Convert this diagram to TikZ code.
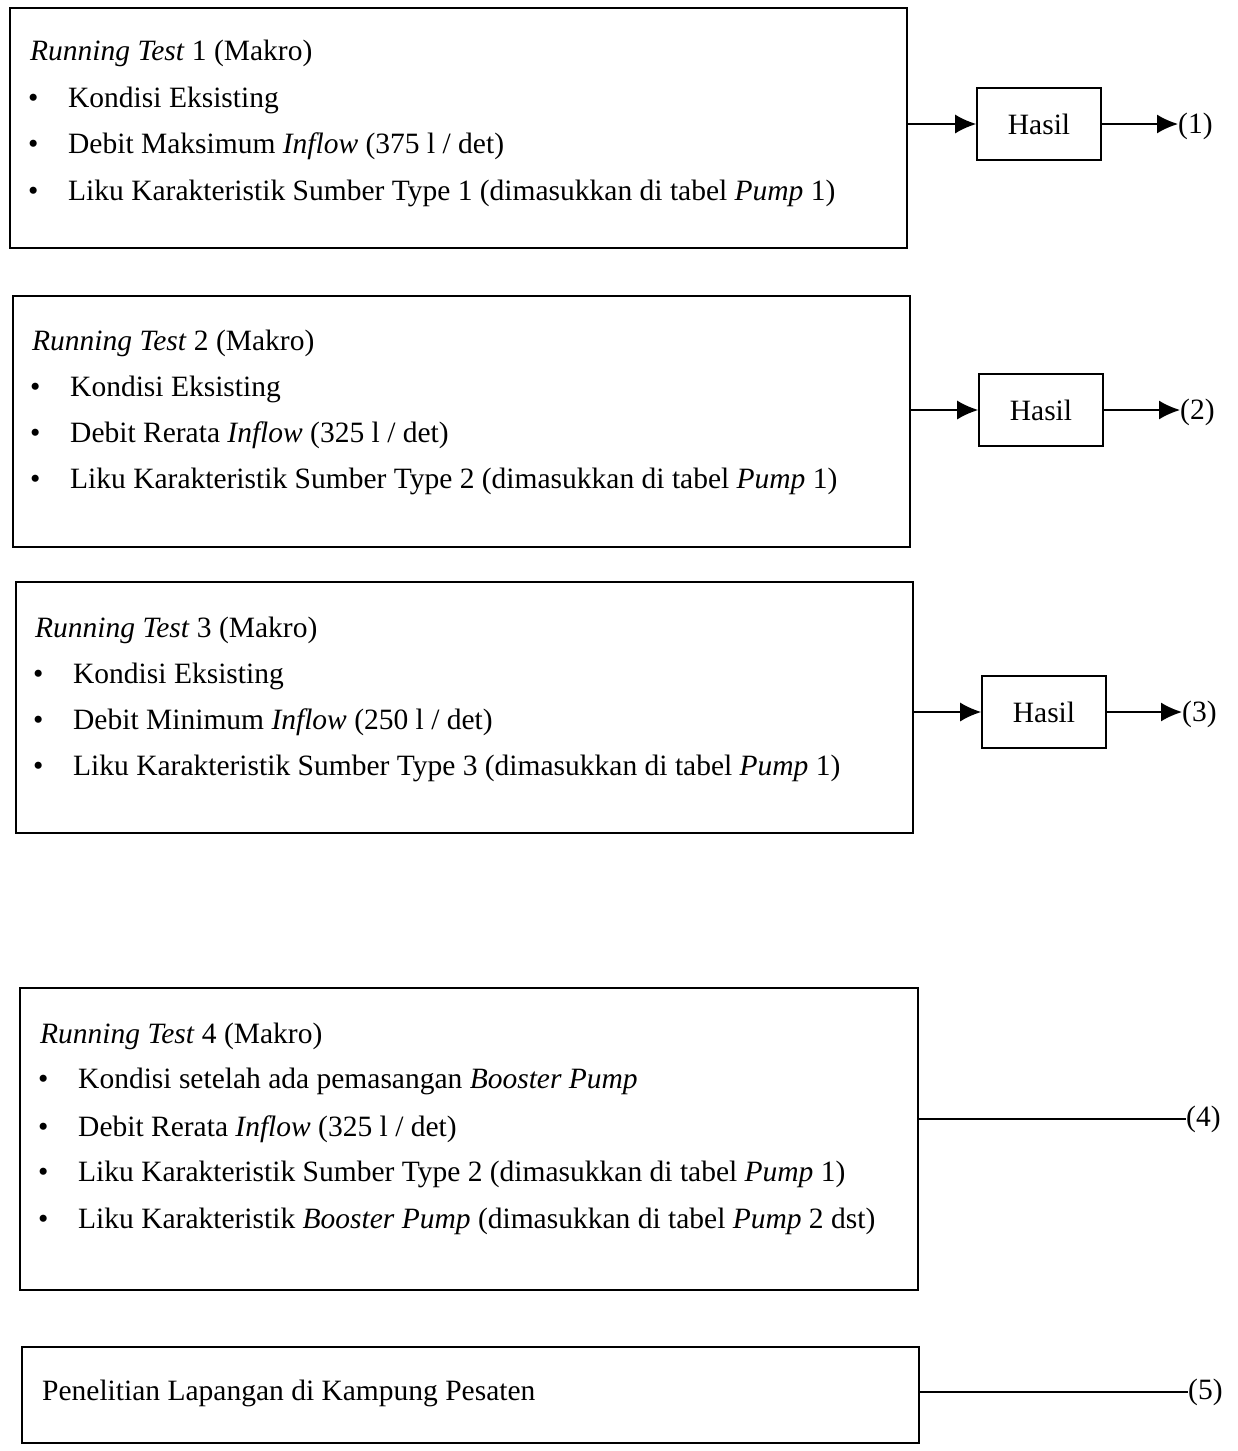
\documentclass[tikz,border=0pt]{standalone}
\usepackage{fontspec}
\setmainfont{Liberation Serif}
\usetikzlibrary{arrows.meta}
\begin{document}
\begin{tikzpicture}[x=1pt,y=-1pt,
  box/.style={draw,line width=1.6pt,inner sep=0,anchor=north west},
  hasil/.style={draw,line width=1.6pt,inner sep=0,anchor=center,minimum width=124pt,minimum height=72pt,font=\fontsize{29.5}{36}\selectfont},
  txt/.style={anchor=base west,inner sep=0,font=\fontsize{29.5}{36}\selectfont},
  lab/.style={anchor=west,inner sep=0,font=\fontsize{29.5}{36}\selectfont},
  arr/.style={line width=1.6pt,-{Latex[length=21pt,width=19pt]}},
  ln/.style={line width=1.6pt}]
\useasboundingbox (0,0) rectangle (1238,1451);
% ---- box 1
\node[box,minimum width=897pt,minimum height=240pt] (b1) at (9,7) {};
\node[txt] (t1) at (30,60) {\textit{Running Test} 1 (Makro)};
\node[txt] (t1a) at (28,107) {\textbullet};
\node[txt] (t1b) at (68,107) {Kondisi Eksisting};
\node[txt] (t1c) at (28,153) {\textbullet};
\node[txt] (t1d) at (68,153) {Debit Maksimum \textit{Inflow} (375 l / det)};
\node[txt] (t1e) at (28,200) {\textbullet};
\node[txt] (t1f) at (68,200) {Liku Karakteristik Sumber Type 1 (dimasukkan di tabel \textit{Pump} 1)};
\node[hasil] (h1) at (1039,124) {Hasil};
\node[lab] (l1) at (1178,126) {(1)};
\draw[arr] (b1.east |- h1) -- (h1.west);
\draw[arr] (h1.east) -- (h1.east -| l1.west);
% ---- box 2
\node[box,minimum width=897pt,minimum height=251pt] (b2) at (12,295) {};
\node[txt] (t2) at (32,350) {\textit{Running Test} 2 (Makro)};
\node[txt] (t2a) at (30,396) {\textbullet};
\node[txt] (t2b) at (70,396) {Kondisi Eksisting};
\node[txt] (t2c) at (30,442) {\textbullet};
\node[txt] (t2d) at (70,442) {Debit Rerata \textit{Inflow} (325 l / det)};
\node[txt] (t2e) at (30,488) {\textbullet};
\node[txt] (t2f) at (70,488) {Liku Karakteristik Sumber Type 2 (dimasukkan di tabel \textit{Pump} 1)};
\node[hasil] (h2) at (1041,410) {Hasil};
\node[lab] (l2) at (1180,412) {(2)};
\draw[arr] (b2.east |- h2) -- (h2.west);
\draw[arr] (h2.east) -- (h2.east -| l2.west);
% ---- box 3
\node[box,minimum width=897pt,minimum height=251pt] (b3) at (15,581) {};
\node[txt] (t3) at (35,637) {\textit{Running Test} 3 (Makro)};
\node[txt] (t3a) at (33,683) {\textbullet};
\node[txt] (t3b) at (73,683) {Kondisi Eksisting};
\node[txt] (t3c) at (33,729) {\textbullet};
\node[txt] (t3d) at (73,729) {Debit Minimum \textit{Inflow} (250 l / det)};
\node[txt] (t3e) at (33,775) {\textbullet};
\node[txt] (t3f) at (73,775) {Liku Karakteristik Sumber Type 3 (dimasukkan di tabel \textit{Pump} 1)};
\node[hasil] (h3) at (1044,712) {Hasil};
\node[lab] (l3) at (1182,714) {(3)};
\draw[arr] (b3.east |- h3) -- (h3.west);
\draw[arr] (h3.east) -- (h3.east -| l3.west);
% ---- box 4
\node[box,minimum width=898pt,minimum height=302pt] (b4) at (19,987) {};
\node[txt] (t4) at (40,1043) {\textit{Running Test} 4 (Makro)};
\node[txt] (t4a) at (38,1088) {\textbullet};
\node[txt] (t4b) at (78,1088) {Kondisi setelah ada pemasangan \textit{Booster Pump}};
\node[txt] (t4c) at (38,1136) {\textbullet};
\node[txt] (t4d) at (78,1136) {Debit Rerata \textit{Inflow} (325 l / det)};
\node[txt] (t4e) at (38,1181) {\textbullet};
\node[txt] (t4f) at (78,1181) {Liku Karakteristik Sumber Type 2 (dimasukkan di tabel \textit{Pump} 1)};
\node[txt] (t4g) at (38,1228) {\textbullet};
\node[txt] (t4h) at (78,1228) {Liku Karakteristik \textit{Booster Pump} (dimasukkan di tabel \textit{Pump} 2 dst)};
\node[lab] (l4) at (1186,1119) {(4)};
\draw[ln] (b4.east |- l4) -- (l4.west);
% ---- box 5
\node[box,minimum width=897pt,minimum height=96pt] (b5) at (21,1346) {};
\node[txt] (t5) at (42,1400) {Penelitian Lapangan di Kampung Pesaten};
\node[lab] (l5) at (1188,1392) {(5)};
\draw[ln] (b5.east |- l5) -- (l5.west);
\end{tikzpicture}
\end{document}
